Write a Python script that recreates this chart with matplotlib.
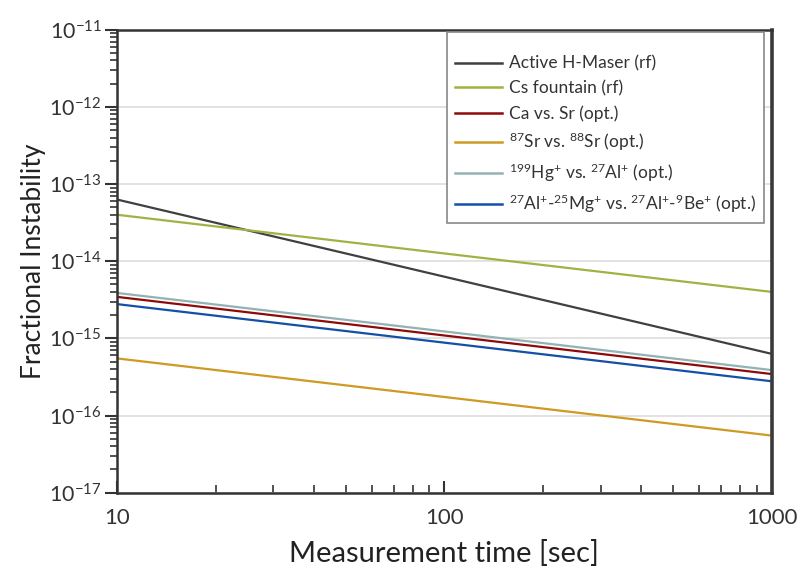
import math
import matplotlib
matplotlib.use("Agg")
import matplotlib.pyplot as plt
from matplotlib.ticker import FixedLocator, NullFormatter, FuncFormatter

plt.rcParams['font.family'] = ['Lato', 'DejaVu Sans']
plt.rcParams['mathtext.fontset'] = 'custom'
plt.rcParams['mathtext.rm'] = 'Lato'
plt.rcParams['mathtext.it'] = 'Lato'
plt.rcParams['mathtext.bf'] = 'Lato'
plt.rcParams['mathtext.default'] = 'rm'

# Data
times = [10, 100, 1000]
labels = [
    "Active H-Maser (rf)",
    "Cs fountain (rf)",
    "Ca vs. Sr (opt.)",
    r"$^{87}$Sr vs. $^{88}$Sr (opt.)",
    r"$^{199}$Hg$^{+}$ vs. $^{27}$Al$^{+}$ (opt.)",
    r"$^{27}$Al$^{+}$-$^{25}$Mg$^{+}$ vs. $^{27}$Al$^{+}$-$^{9}$Be$^{+}$ (opt.)",
]
maser = [6.3e-14, 6.3e-15, 6.3e-16]
cs_fountain = [4.0e-14, 1.26e-14, 4.0e-15]
ca_sr = [3.45e-15, 1.09e-15, 3.45e-16]
sr_sr = [5.5e-16, 1.74e-16, 5.5e-17]
hg_al = [3.88e-15, 1.23e-15, 3.88e-16]
al_al = [2.78e-15, 8.8e-16, 2.78e-16]
series = [maser, cs_fountain, ca_sr, sr_sr, hg_al, al_al]
colors = ["#404040", "#9db443", "#8e0a0a", "#cf9a22", "#93b2b4", "#1450a6"]
y_exponents = [-17, -16, -15, -14, -13, -12, -11]
x_ticks = [10, 100, 1000]

fig = plt.figure(figsize=(7.97, 5.70), dpi=100)
ax = fig.add_axes([0.1468, 0.1356, 0.9683 - 0.1468, 0.9479 - 0.1356])

for vals, lab, c in zip(series, labels, colors):
    ax.plot(times, vals, color=c, lw=1.6, label=lab)

ax.set_xscale('log')
ax.set_yscale('log')
ax.set_xlim(10, 1000)
ax.set_ylim(1e-17, 1e-11)

ax.yaxis.set_major_locator(FixedLocator([10.0 ** e for e in y_exponents]))
ax.yaxis.set_minor_locator(FixedLocator([m * 10.0 ** e for e in y_exponents[:-1] for m in range(2, 10)]))
ax.yaxis.set_minor_formatter(NullFormatter())
ax.yaxis.set_major_formatter(FuncFormatter(lambda v, p: r"$10^{%d}$" % round(math.log10(v))))
ax.xaxis.set_major_locator(FixedLocator(x_ticks))
ax.xaxis.set_minor_locator(FixedLocator([m * t for t in x_ticks[:-1] for m in range(2, 10)]))
ax.xaxis.set_major_formatter(FuncFormatter(lambda v, p: "%d" % round(v)))
ax.xaxis.set_minor_formatter(NullFormatter())

ax.grid(True, which='major', axis='y', color='#dddddd', lw=1.2)
ax.set_axisbelow(True)

for s in ['left', 'bottom', 'top']:
    ax.spines[s].set_color('#333333')
    ax.spines[s].set_linewidth(1.8)
ax.spines['right'].set_color('#3a3a3a')
ax.spines['right'].set_linewidth(2.6)

ax.tick_params(axis='y', which='major', direction='out', length=9, width=1.5, color='#333333',
               labelsize=15.5, labelcolor='#333333', pad=2)
ax.tick_params(axis='y', which='minor', direction='out', length=5, width=1.2, color='#333333')
ax.tick_params(axis='x', which='major', direction='in', length=9, width=1.5, color='#333333',
               labelsize=16, labelcolor='#333333', pad=11)
ax.tick_params(axis='x', which='minor', direction='in', length=6, width=1.2, color='#333333')

ax.set_xlabel("Measurement time [sec]", fontsize=21, color='#222222', labelpad=9)
ax.set_ylabel("Fractional Instability", fontsize=19, color='#222222', labelpad=2)

leg = ax.legend(loc='upper right', bbox_to_anchor=(0.988, 0.995), borderaxespad=0,
                fontsize=12.5, frameon=True,
                fancybox=False, edgecolor='#888888', framealpha=1, handlelength=2.7,
                handletextpad=0.4, labelspacing=0.5, borderpad=0.45, title=' ',
                title_fontsize=6, labelcolor='#333333')
leg.get_frame().set_linewidth(1.2)
for line in leg.get_lines():
    line.set_linewidth(1.8)

fig.savefig("out.png", dpi=100)
